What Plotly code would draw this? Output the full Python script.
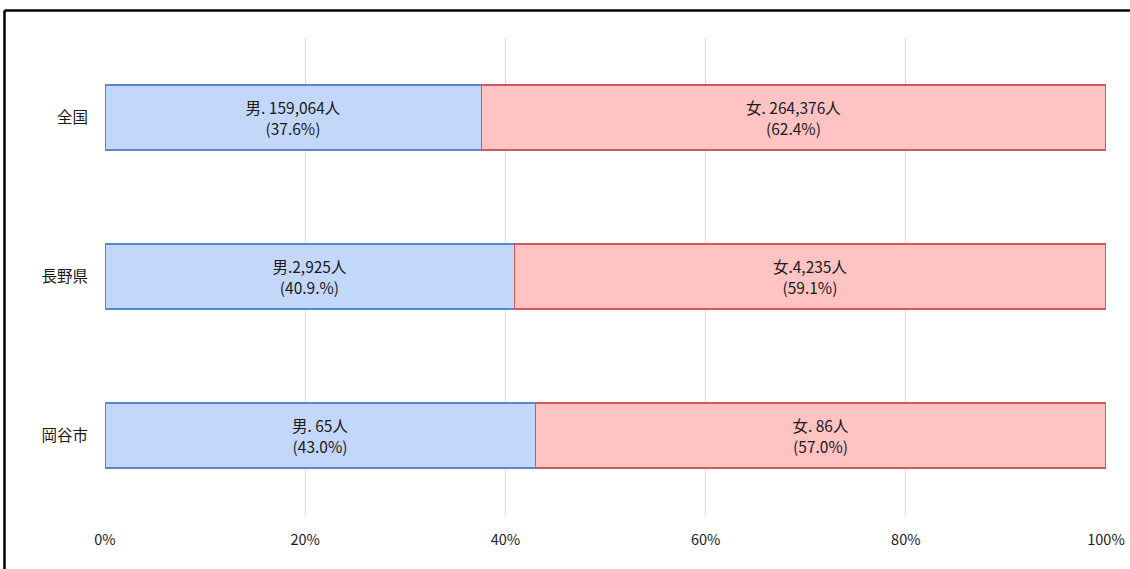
import plotly.graph_objects as go

categories = ["全国", "長野県", "岡谷市"]
male_pct = [37.6, 40.9, 43.0]
female_pct = [62.4, 59.1, 57.0]
male_labels = ["男. 159,064人<br>(37.6%)", "男.2,925人<br>(40.9.%)", "男. 65人<br>(43.0%)"]
female_labels = ["女. 264,376人<br>(62.4%)", "女.4,235人<br>(59.1%)", "女. 86人<br>(57.0%)"]
x_ticks = [0, 20, 40, 60, 80, 100]
x_tick_labels = ["0%", "20%", "40%", "60%", "80%", "100%"]

FONT = "Noto Sans CJK JP"

fig = go.Figure()
fig.add_trace(go.Bar(
    y=categories, x=male_pct, orientation="h", name="男",
    text=male_labels, textposition="inside", insidetextanchor="middle",
    textfont=dict(family=FONT, size=15.5, color="#1a1a1a"),
    marker=dict(color="#c3d7fb", line=dict(color="#5a87c8", width=1.5)),
    hoverinfo="skip",
))
fig.add_trace(go.Bar(
    y=categories, x=female_pct, orientation="h", name="女",
    text=female_labels, textposition="inside", insidetextanchor="middle",
    textfont=dict(family=FONT, size=15.5, color="#1a1a1a"),
    marker=dict(color="#ffc3c3", line=dict(color="#d05a5a", width=1.5)),
    hoverinfo="skip",
))

fig.update_layout(
    barmode="stack",
    bargap=0.59,
    width=1130, height=569,
    margin=dict(l=105, r=24, t=38, b=54, autoexpand=False),
    paper_bgcolor="white", plot_bgcolor="white",
    showlegend=False,
    font=dict(family=FONT, size=14, color="#1a1a1a"),
    uniformtext=dict(minsize=14, mode="show"),
    xaxis=dict(
        range=[0, 100], tickvals=x_ticks, ticktext=x_tick_labels,
        showgrid=True, gridcolor="#d9d9d9", gridwidth=1,
        zeroline=False, showline=False, ticks="",
        ticklabelstandoff=14, automargin=False,
        tickfont=dict(family=FONT, size=14.5, color="#1a1a1a"),
    ),
    yaxis=dict(
        categoryorder="array", categoryarray=categories,
        autorange="reversed",
        showgrid=False, zeroline=False, showline=False, ticks="",
        ticklabelstandoff=16, automargin=False,
        tickfont=dict(family=FONT, size=15.5, color="#1a1a1a"),
    ),
    shapes=[
        dict(type="line", xref="paper", yref="paper",
             x0=-0.1004, x1=1.2, y0=1.0577, y1=1.0577,
             line=dict(color="black", width=2.5)),
        dict(type="line", xref="paper", yref="paper",
             x0=-0.1004, x1=-0.1004, y0=-0.2, y1=1.0577,
             line=dict(color="black", width=2.5)),
    ],
)

fig.write_html(
    "out.html",
    config={"displayModeBar": False},
    post_script="document.body.style.margin='0';document.body.style.padding='0';",
)
